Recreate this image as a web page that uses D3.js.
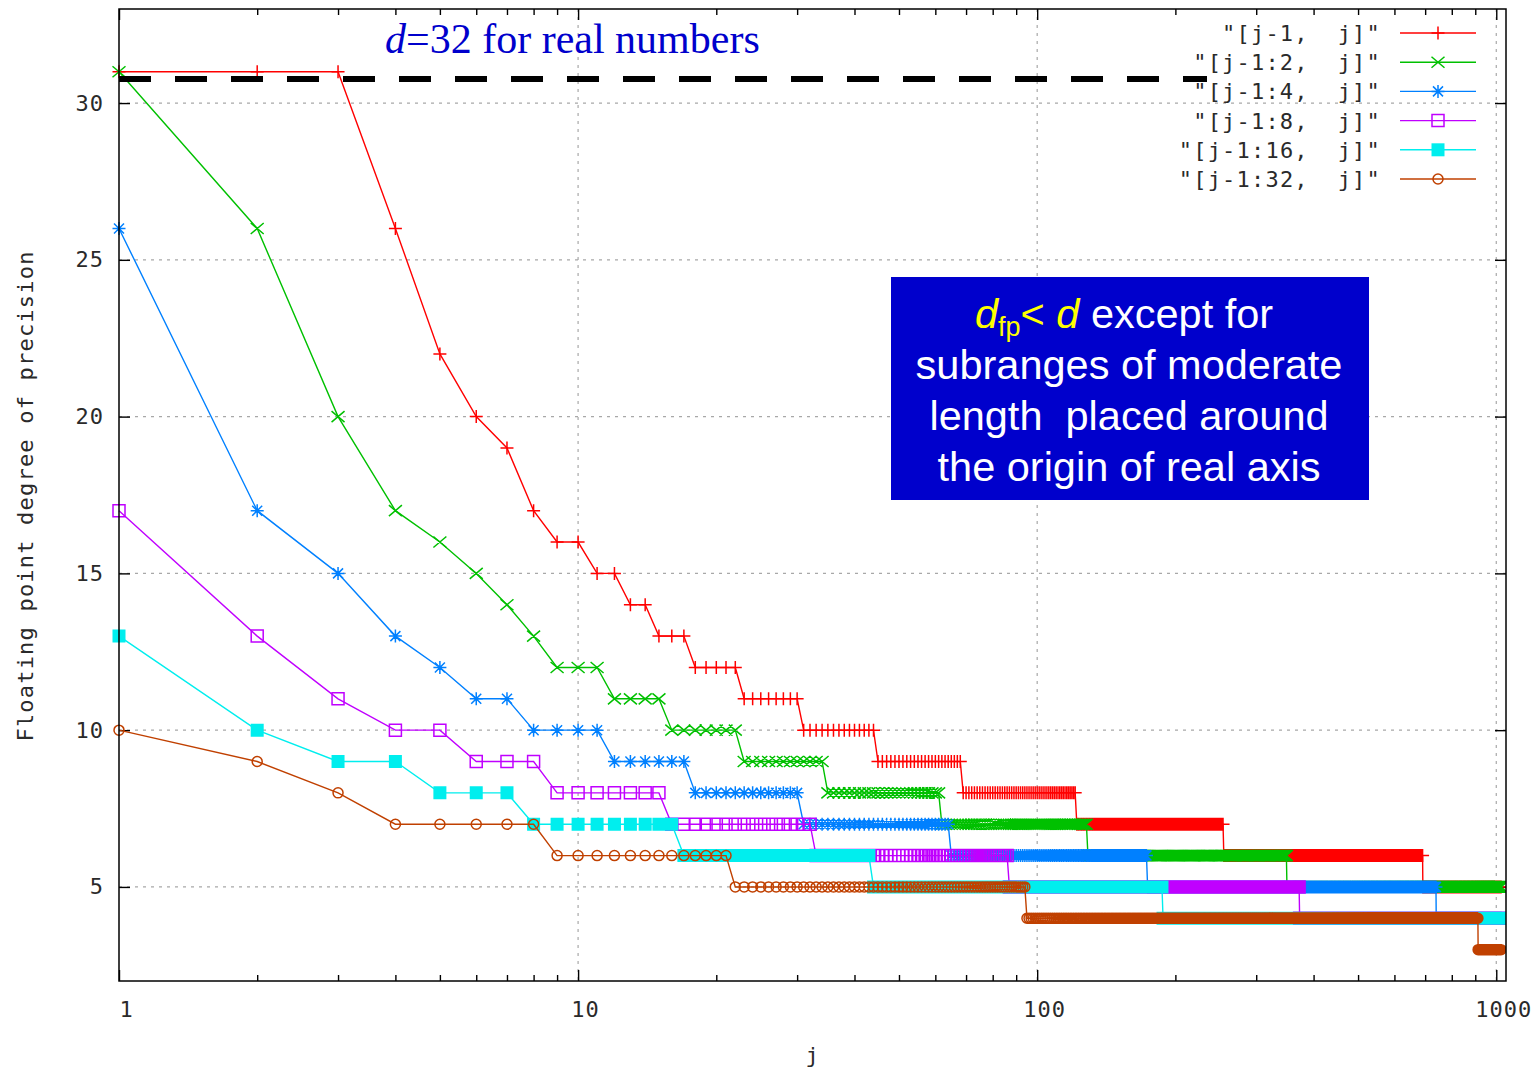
<!DOCTYPE html>
<html>
<head>
<meta charset="utf-8">
<script src="https://cdn.jsdelivr.net/npm/d3@7"></script>
<style>
  html, body { margin: 0; padding: 0; background: #ffffff; }
  svg { display: block; }
</style>
</head>
<body>
<svg id="chart" width="1539" height="1068"></svg>
<script>
// ---- data -------------------------------------------------------------
// Each series is stored as runs of constant precision: [first j, last j, degree]
const seriesNames = ['"[j-1,  j]"', '"[j-1:2,  j]"', '"[j-1:4,  j]"',
                     '"[j-1:8,  j]"', '"[j-1:16,  j]"', '"[j-1:32,  j]"'];
const seriesColors = ["#ff0000", "#00c000", "#0080ff", "#c000ff", "#00eeee", "#c04000"];
const seriesMarkers = ["plus", "cross", "star", "square", "filledSquare", "circle"];

const runsJ1 = [[1,3,31],[4,4,26],[5,5,22],[6,6,20],[7,7,19],[8,8,17],[9,10,16],
  [11,12,15],[13,14,14],[15,17,13],[18,22,12],[23,30,11],[31,44,10],[45,68,9],
  [69,121,8],[122,254,7],[255,691,6],[692,1024,5]];
const runsJ2 = [[1,1,31],[2,2,26],[3,3,20],[4,4,17],[5,5,16],[6,6,15],[7,7,14],
  [8,8,13],[9,11,12],[12,15,11],[16,22,10],[23,34,9],[35,61,8],[62,128,7],
  [129,349,6],[350,1024,5]];
const runsJ4 = [[1,1,26],[2,2,17],[3,3,15],[4,4,13],[5,5,12],[6,7,11],[8,11,10],
  [12,17,9],[18,30,8],[31,64,7],[65,173,6],[174,739,5],[740,1024,4]];
const runsJ8 = [[1,1,17],[2,2,13],[3,3,11],[4,5,10],[6,8,9],[9,15,8],[16,32,7],
  [33,86,6],[87,372,5],[373,1024,4]];
const runsJ16 = [[1,1,13],[2,2,10],[3,4,9],[5,7,8],[8,16,7],[17,43,6],[44,187,5],
  [188,1024,4]];
const runsJ32 = [[1,1,10],[2,2,9],[3,3,8],[4,8,7],[9,21,6],[22,94,5],[95,912,4],
  [913,1024,3]];
const seriesRuns = [runsJ1, runsJ2, runsJ4, runsJ8, runsJ16, runsJ32];

const xTickValues = [1, 10, 100, 1000];
const yTickValues = [5, 10, 15, 20, 25, 30];
const xDomain = [1, 1050];
const yDomain = [2, 33];
const realNumbersLevel = 30.77;   // dashed reference line

// ---- layout -----------------------------------------------------------
const plot = { left: 119, right: 1506, top: 9, bottom: 981 };
const svg = d3.select("#chart");
const monoFont = "'DejaVu Sans Mono', monospace";
const monoSize = 22;
const textColor = "#2a2a2a";

const x = d3.scaleLog().domain(xDomain).range([plot.left, plot.right]);
const y = d3.scaleLinear().domain(yDomain).range([plot.bottom, plot.top]);

// expand runs into one point per integer j
const series = seriesRuns.map((runs, i) => {
  const pts = [];
  runs.forEach(([a, b, v]) => { for (let j = a; j <= b; j++) pts.push({ j, v }); });
  return { name: seriesNames[i], color: seriesColors[i], marker: seriesMarkers[i], pts };
});

svg.append("defs").append("clipPath").attr("id", "plotClip")
  .append("rect").attr("x", 0).attr("y", 0)
  .attr("width", plot.right).attr("height", 1068);

// ---- grid -------------------------------------------------------------
const grid = svg.append("g").attr("stroke", "#a8a8a8").attr("stroke-width", 1.2)
  .attr("stroke-dasharray", "3,5");
grid.selectAll("line.h").data(yTickValues).join("line").attr("class", "h")
  .attr("x1", plot.left).attr("x2", plot.right)
  .attr("y1", d => y(d)).attr("y2", d => y(d));
grid.selectAll("line.v").data(xTickValues.slice(1)).join("line").attr("class", "v")
  .attr("y1", plot.top).attr("y2", plot.bottom)
  .attr("x1", d => x(d)).attr("x2", d => x(d));

// ---- axes ---------------------------------------------------------------
const minorX = [];
[1, 10, 100].forEach(dec => { for (let k = 2; k <= 9; k++) minorX.push(dec * k); });

function styleAxis(g) {
  g.select(".domain").remove();
  g.selectAll(".tick line").attr("stroke", "#000").attr("stroke-width", 1.4);
  g.selectAll("text").attr("font-family", monoFont).attr("font-size", monoSize)
    .attr("fill", textColor).attr("letter-spacing", 1);
}
svg.append("g").attr("transform", `translate(0,${plot.bottom})`)
  .call(d3.axisBottom(x).tickValues(xTickValues).tickFormat(d3.format("d"))
    .tickSize(-11).tickPadding(20)).call(styleAxis)
  .selectAll("text").attr("dx", 7);
svg.append("g").attr("transform", `translate(0,${plot.bottom})`)
  .call(d3.axisBottom(x).tickValues(minorX).tickFormat("").tickSize(-6)).call(styleAxis);
svg.append("g").attr("transform", `translate(0,${plot.top})`)
  .call(d3.axisTop(x).tickValues(xTickValues).tickFormat("").tickSize(-11)).call(styleAxis);
svg.append("g").attr("transform", `translate(0,${plot.top})`)
  .call(d3.axisTop(x).tickValues(minorX).tickFormat("").tickSize(-6)).call(styleAxis);
svg.append("g").attr("transform", `translate(${plot.left},0)`)
  .call(d3.axisLeft(y).tickValues(yTickValues).tickSize(-11).tickPadding(15)).call(styleAxis);
svg.append("g").attr("transform", `translate(${plot.right},0)`)
  .call(d3.axisRight(y).tickValues(yTickValues).tickFormat("").tickSize(-11)).call(styleAxis);

// ---- markers ------------------------------------------------------------
function markerPath(type, cx, cy) {
  switch (type) {
    case "plus": return `M${cx-6.5},${cy}H${cx+6.5}M${cx},${cy-6.5}V${cy+6.5}`;
    case "cross": return `M${cx-6.5},${cy-5.5}L${cx+6.5},${cy+5.5}M${cx-6.5},${cy+5.5}L${cx+6.5},${cy-5.5}`;
    case "star": return `M${cx-6.5},${cy}H${cx+6.5}M${cx},${cy-6.5}V${cy+6.5}` +
                        `M${cx-5},${cy-5}L${cx+5},${cy+5}M${cx-5},${cy+5}L${cx+5},${cy-5}`;
    case "square": return `M${cx-6},${cy-6}h12v12h-12Z`;
    case "filledSquare": return `M${cx-6.5},${cy-6.5}h13v13h-13Z`;
    case "circle": return `M${cx-5},${cy}a5,5 0 1,0 10,0a5,5 0 1,0 -10,0Z`;
  }
}

const line = d3.line().x(d => x(d.j)).y(d => y(d.v));
const dataLayer = svg.append("g").attr("clip-path", "url(#plotClip)");
series.forEach(s => {
  const g = dataLayer.append("g");
  g.append("path").attr("d", line(s.pts)).attr("fill", "none")
    .attr("stroke", s.color).attr("stroke-width", 1.4);
  const d = s.pts.map(p => markerPath(s.marker, x(p.j), y(p.v))).join("");
  g.append("path").attr("d", d)
    .attr("fill", s.marker === "filledSquare" ? s.color : "none")
    .attr("stroke", s.marker === "filledSquare" ? "none" : s.color)
    .attr("stroke-width", 1.5);
});

// ---- legend -------------------------------------------------------------
const legend = svg.append("g");
series.forEach((s, i) => {
  const ly = 33 + i * 29.2;
  legend.append("text").attr("x", 1381).attr("y", ly).attr("dy", "0.36em")
    .attr("text-anchor", "end").attr("font-family", monoFont).attr("font-size", monoSize)
    .attr("letter-spacing", 1.2).attr("fill", textColor).style("white-space", "pre")
    .text(s.name);
  legend.append("line").attr("x1", 1400).attr("x2", 1476).attr("y1", ly).attr("y2", ly)
    .attr("stroke", s.color).attr("stroke-width", 1.4);
  legend.append("path").attr("d", markerPath(s.marker, 1438, ly))
    .attr("fill", s.marker === "filledSquare" ? s.color : "none")
    .attr("stroke", s.marker === "filledSquare" ? "none" : s.color)
    .attr("stroke-width", 1.5);
});

// ---- border -------------------------------------------------------------
svg.append("rect").attr("x", plot.left).attr("y", plot.top)
  .attr("width", plot.right - plot.left).attr("height", plot.bottom - plot.top)
  .attr("fill", "none").attr("stroke", "#000").attr("stroke-width", 1.5);

// ---- axis titles --------------------------------------------------------
svg.append("text").attr("x", 812).attr("y", 1063).attr("text-anchor", "middle")
  .attr("font-family", monoFont).attr("font-size", monoSize).attr("fill", textColor).text("j");
svg.append("text").attr("transform", "translate(33,496) rotate(-90)")
  .attr("text-anchor", "middle").attr("font-family", monoFont).attr("font-size", monoSize)
  .attr("letter-spacing", 1.2).attr("fill", textColor)
  .text("Floating point degree of precision");

// ---- reference line for real numbers -------------------------------------
svg.append("line").attr("x1", x(1)).attr("x2", 1207)
  .attr("y1", y(realNumbersLevel)).attr("y2", y(realNumbersLevel))
  .attr("stroke", "#000").attr("stroke-width", 6).attr("stroke-dasharray", "32,24");
const title = svg.append("text").attr("x", 385).attr("y", 53)
  .attr("font-family", "'Liberation Serif', 'Times New Roman', serif")
  .attr("font-size", 42).attr("fill", "#0000cc");
title.append("tspan").attr("font-style", "italic").text("d");
title.append("tspan").text("=32 for real numbers");

// ---- annotation box -----------------------------------------------------
svg.append("rect").attr("x", 891).attr("y", 277).attr("width", 478).attr("height", 223)
  .attr("fill", "#0000cc");
const boxFont = "'Liberation Sans', Arial, sans-serif";
const boxSize = 41.5;
const noteLines = ["subranges of moderate", "length  placed around", "the origin of real axis"];
const first = svg.append("text").attr("x", 1124).attr("y", 328).attr("text-anchor", "middle")
  .attr("font-family", boxFont).attr("font-size", boxSize).attr("fill", "#ffffff")
  .style("white-space", "pre");
first.append("tspan").attr("fill", "#ffff00").attr("font-style", "italic").text("d");
first.append("tspan").attr("fill", "#ffff00").attr("font-size", 27).attr("dy", 8).text("fp");
first.append("tspan").attr("fill", "#ffff00").attr("dy", -8).text("< ");
first.append("tspan").attr("fill", "#ffff00").attr("font-style", "italic").text("d");
first.append("tspan").text(" except for");
noteLines.forEach((t, i) => {
  svg.append("text").attr("x", 1129).attr("y", 379 + i * 51).attr("text-anchor", "middle")
    .attr("font-family", boxFont).attr("font-size", boxSize).attr("fill", "#ffffff")
    .style("white-space", "pre").text(t);
});
</script>
</body>
</html>
